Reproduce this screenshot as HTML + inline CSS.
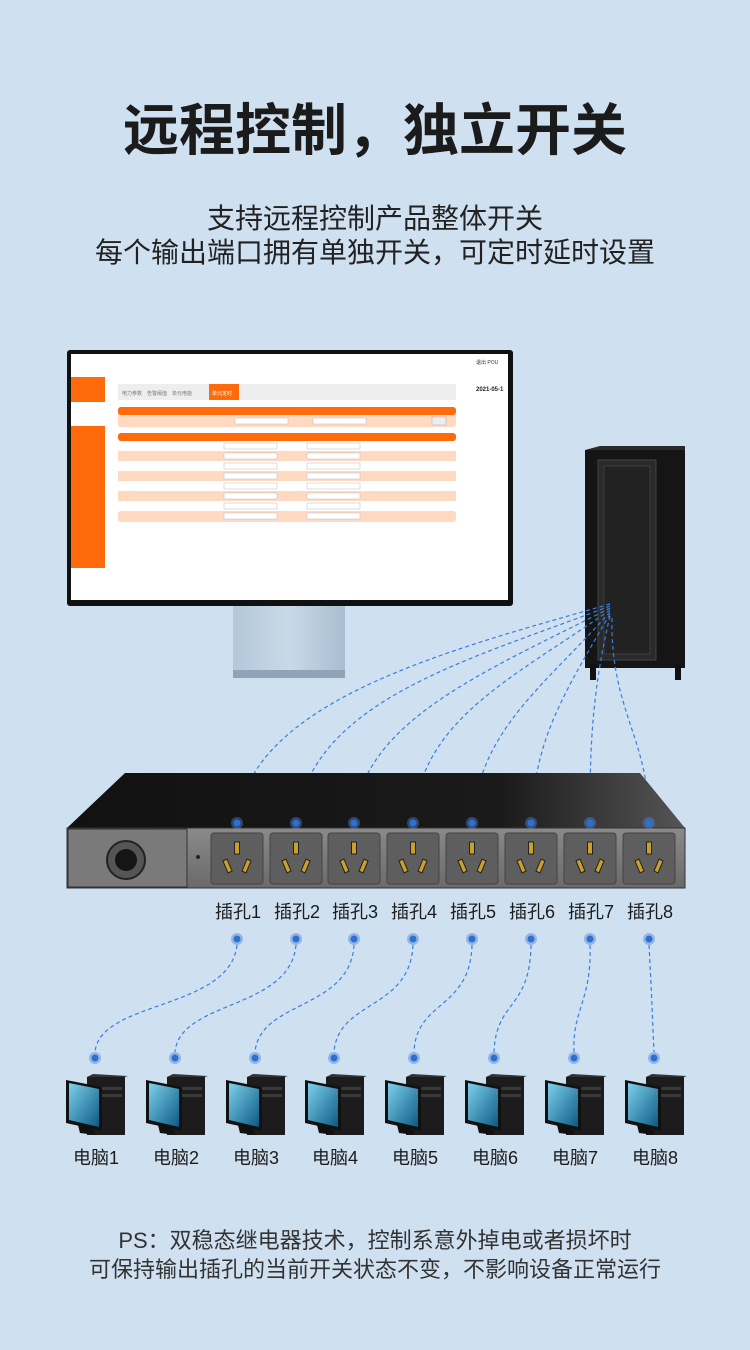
<!DOCTYPE html>
<html><head><meta charset="utf-8"><style>
body{margin:0;background:#cfe0f1;}
svg{display:block}
text{font-family:"Liberation Sans","Noto Sans CJK SC",sans-serif;}
</style></head><body>
<svg width="750" height="1350" viewBox="0 0 750 1350" xmlns="http://www.w3.org/2000/svg">
<defs>
<linearGradient id="top" x1="0" y1="0" x2="1" y2="0"><stop offset="0" stop-color="#111"/><stop offset="0.7" stop-color="#1a1a1a"/><stop offset="1" stop-color="#555"/></linearGradient>
<linearGradient id="front" x1="0" y1="0" x2="0" y2="1"><stop offset="0" stop-color="#8a8a8a"/><stop offset="1" stop-color="#6a6a6a"/></linearGradient>
<linearGradient id="scr" x1="0" y1="0" x2="1" y2="1"><stop offset="0" stop-color="#7fd0ea"/><stop offset="1" stop-color="#0a5a86"/></linearGradient>
<linearGradient id="stand" x1="0" y1="0" x2="1" y2="0"><stop offset="0" stop-color="#b4c8da"/><stop offset="0.5" stop-color="#c9d9e8"/><stop offset="1" stop-color="#a9bed1"/></linearGradient>
<g id="pc">
<rect x="21" y="0" width="38" height="58" fill="#1c1c1c"/>
<polygon points="21,0 27,-3 62,-1 59,0" fill="#333"/>
<rect x="24" y="10" width="32" height="3" fill="#3a3a3a"/>
<rect x="24" y="17" width="32" height="3" fill="#3a3a3a"/>
<polygon points="0,3 36,10 36,54 0,46" fill="#111"/>
<polygon points="3,6 33,12 33,50 3,43" fill="url(#scr)"/>
<polygon points="12,48 26,51 30,58 14,56" fill="#111"/>
</g>
<g id="sock">
<rect x="-26" y="0" width="52" height="51" rx="3" fill="#5e5e5e" stroke="#444"/>
<rect x="-2.5" y="9" width="5" height="12" fill="#c9a02a" stroke="#222"/>
<polygon points="-14,28 -10,26 -5,38 -9,40" fill="#c9a02a" stroke="#222"/>
<polygon points="14,28 10,26 5,38 9,40" fill="#c9a02a" stroke="#222"/>
</g>
<g id="dot"><circle r="6" fill="#4a86d8" opacity="0.45"/><circle r="3.5" fill="#2f6fd0"/></g>
</defs>

<text x="375" y="150" text-anchor="middle" font-size="56" font-weight="bold" fill="#1b1b1b">远程控制，独立开关</text>
<text x="375" y="228" text-anchor="middle" font-size="28" fill="#222">支持远程控制产品整体开关</text>
<text x="375" y="262" text-anchor="middle" font-size="28" fill="#222">每个输出端口拥有单独开关，可定时延时设置</text>

<!-- monitor -->
<rect x="233" y="605" width="112" height="68" fill="url(#stand)"/>
<rect x="233" y="670" width="112" height="8" fill="#8fa4b8"/>
<rect x="67" y="350" width="446" height="256" rx="3" fill="#111"/>
<rect x="71" y="354" width="437" height="246" fill="#fff"/>
<rect x="71" y="377" width="34" height="191" fill="#ff6a0a"/>
<rect x="71" y="402" width="34" height="24" fill="#fff"/>
<rect x="118" y="384" width="338" height="16" fill="#eee"/>
<rect x="209" y="384" width="30" height="16" fill="#ff6a0a"/>
<text x="122" y="395" font-size="5" fill="#777">电力参数　告警阈值　单元电能</text>
<text x="212" y="395" font-size="5" fill="#fff">单元定时</text>
<text x="476" y="364" font-size="5" fill="#333">退出 POU</text>
<text x="476" y="391" font-size="6" font-weight="bold" fill="#222">2021-05-1</text>
<rect x="118" y="407" width="338" height="20" rx="3" fill="#ffd9c0"/>
<rect x="118" y="407" width="338" height="8" rx="3" fill="#ff6a0a"/>
<rect x="235" y="418" width="53" height="6" fill="#fff" stroke="#bbb" stroke-width="0.5"/>
<rect x="313" y="418" width="53" height="6" fill="#fff" stroke="#bbb" stroke-width="0.5"/>
<rect x="432" y="417" width="14" height="8" fill="#eee" stroke="#aaa" stroke-width="0.5"/>
<rect x="118" y="433" width="338" height="90" rx="3" fill="#fff"/>
<rect x="118" y="433" width="338" height="8" rx="3" fill="#ff6a0a"/>
<g fill="#ffd9c0">
<rect x="118" y="451" width="338" height="10"/><rect x="118" y="471" width="338" height="10"/><rect x="118" y="491" width="338" height="10"/><rect x="118" y="511" width="338" height="11" rx="3"/>
</g>
<g fill="#fff" stroke="#bbb" stroke-width="0.5">
<rect x="224" y="443" width="53" height="6"/><rect x="307" y="443" width="53" height="6"/>
<rect x="224" y="453" width="53" height="6"/><rect x="307" y="453" width="53" height="6"/>
<rect x="224" y="463" width="53" height="6"/><rect x="307" y="463" width="53" height="6"/>
<rect x="224" y="473" width="53" height="6"/><rect x="307" y="473" width="53" height="6"/>
<rect x="224" y="483" width="53" height="6"/><rect x="307" y="483" width="53" height="6"/>
<rect x="224" y="493" width="53" height="6"/><rect x="307" y="493" width="53" height="6"/>
<rect x="224" y="503" width="53" height="6"/><rect x="307" y="503" width="53" height="6"/>
<rect x="224" y="513" width="53" height="6"/><rect x="307" y="513" width="53" height="6"/>
</g>

<!-- cabinet -->
<rect x="585" y="450" width="100" height="218" fill="#151515"/>
<polygon points="585,450 600,446 685,446 685,450" fill="#2a2a2a"/>
<rect x="598" y="460" width="58" height="200" fill="#2a2a2a" stroke="#444"/>
<rect x="604" y="466" width="46" height="188" fill="#222" stroke="#555" stroke-width="0.5"/>
<rect x="590" y="664" width="6" height="16" fill="#111"/><rect x="675" y="664" width="6" height="16" fill="#111"/>

<!-- top dashed lines -->
<g fill="none" stroke="#3a7ee0" stroke-width="1.2" stroke-dasharray="4,3">
<path d="M610,604 C450,650 250,700 237,823"/>
<path d="M610,606 C470,660 310,700 296,823"/>
<path d="M610,608 C490,670 360,720 354,823"/>
<path d="M610,610 C510,680 420,720 413,823"/>
<path d="M610,612 C540,690 480,730 472,823"/>
<path d="M610,614 C560,700 535,740 531,823"/>
<path d="M610,616 C590,700 590,760 590,823"/>
<path d="M612,618 C610,710 650,740 649,823"/>
</g>

<!-- PDU -->
<polygon points="125,773 640,773 685,828 67,828" fill="url(#top)"/>
<rect x="67" y="828" width="618" height="60" fill="url(#front)" stroke="#333"/>
<rect x="68" y="829" width="119" height="58" fill="#7a7a7a" stroke="#333"/>
<circle cx="126" cy="860" r="19" fill="#555" stroke="#222" stroke-width="2"/>
<circle cx="126" cy="860" r="11" fill="#151515"/>
<circle cx="198" cy="857" r="2" fill="#222"/>
<use href="#sock" x="237" y="833"/><use href="#sock" x="296" y="833"/><use href="#sock" x="354" y="833"/><use href="#sock" x="413" y="833"/>
<use href="#sock" x="472" y="833"/><use href="#sock" x="531" y="833"/><use href="#sock" x="590" y="833"/><use href="#sock" x="649" y="833"/>
<use href="#dot" x="237" y="823"/><use href="#dot" x="296" y="823"/><use href="#dot" x="354" y="823"/><use href="#dot" x="413" y="823"/>
<use href="#dot" x="472" y="823"/><use href="#dot" x="531" y="823"/><use href="#dot" x="590" y="823"/><use href="#dot" x="649" y="823"/>

<g font-size="18" fill="#1b1b1b" text-anchor="middle">
<text x="238" y="918">插孔1</text><text x="297" y="918">插孔2</text><text x="355" y="918">插孔3</text><text x="414" y="918">插孔4</text>
<text x="473" y="918">插孔5</text><text x="532" y="918">插孔6</text><text x="591" y="918">插孔7</text><text x="650" y="918">插孔8</text>
</g>
<use href="#dot" x="237" y="939"/><use href="#dot" x="296" y="939"/><use href="#dot" x="354" y="939"/><use href="#dot" x="413" y="939"/>
<use href="#dot" x="472" y="939"/><use href="#dot" x="531" y="939"/><use href="#dot" x="590" y="939"/><use href="#dot" x="649" y="939"/>
<g fill="none" stroke="#3a7ee0" stroke-width="1.2" stroke-dasharray="4,3">
<path d="M237,945 C230,1010 100,1000 95,1052"/>
<path d="M296,945 C290,1010 180,1000 175,1052"/>
<path d="M354,945 C350,1010 260,1000 255,1052"/>
<path d="M413,945 C410,1010 338,1000 334,1052"/>
<path d="M472,945 C470,1010 416,1000 414,1052"/>
<path d="M531,945 C530,1010 496,1000 494,1052"/>
<path d="M590,945 C592,1000 572,1010 574,1052"/>
<path d="M649,945 C652,1000 652,1010 654,1052"/>
</g>
<use href="#dot" x="95" y="1058"/><use href="#dot" x="175" y="1058"/><use href="#dot" x="255" y="1058"/><use href="#dot" x="334" y="1058"/>
<use href="#dot" x="414" y="1058"/><use href="#dot" x="494" y="1058"/><use href="#dot" x="574" y="1058"/><use href="#dot" x="654" y="1058"/>

<use href="#pc" x="66" y="1077"/><use href="#pc" x="146" y="1077"/><use href="#pc" x="226" y="1077"/><use href="#pc" x="305" y="1077"/>
<use href="#pc" x="385" y="1077"/><use href="#pc" x="465" y="1077"/><use href="#pc" x="545" y="1077"/><use href="#pc" x="625" y="1077"/>
<g font-size="18" fill="#1b1b1b" text-anchor="middle">
<text x="96" y="1164">电脑1</text><text x="176" y="1164">电脑2</text><text x="256" y="1164">电脑3</text><text x="335" y="1164">电脑4</text>
<text x="415" y="1164">电脑5</text><text x="495" y="1164">电脑6</text><text x="575" y="1164">电脑7</text><text x="655" y="1164">电脑8</text>
</g>

<text x="375" y="1248" text-anchor="middle" font-size="22" fill="#333">PS：双稳态继电器技术，控制系意外掉电或者损坏时</text>
<text x="375" y="1277" text-anchor="middle" font-size="22" fill="#333">可保持输出插孔的当前开关状态不变，不影响设备正常运行</text>
</svg>
</body></html>
